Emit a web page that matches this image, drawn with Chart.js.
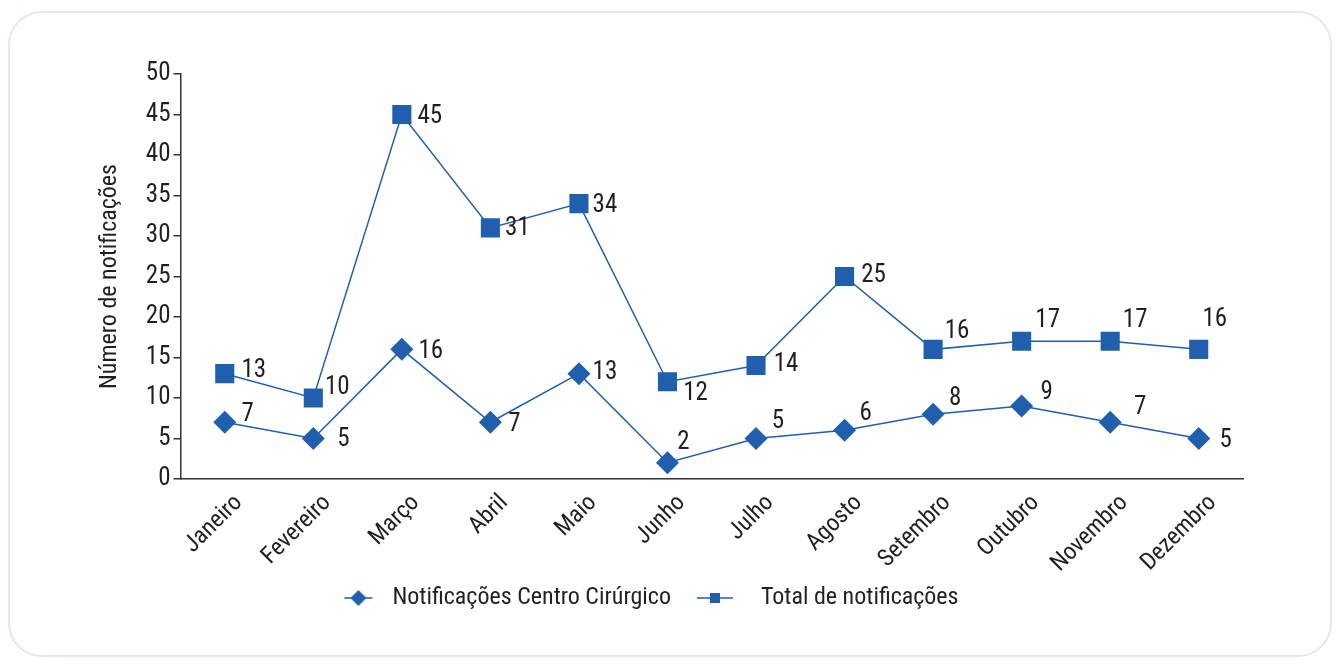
<!DOCTYPE html>
<html>
<head>
<meta charset="utf-8">
<script src="https://cdn.jsdelivr.net/npm/chart.js@4.4.0/dist/chart.umd.min.js"></script>
<style>
  html, body { margin: 0; padding: 0; background: #fff; }
  #card {
    position: absolute; left: 8px; top: 11px; width: 1324px; height: 646px;
    border: 2px solid #e2e6f5; border-radius: 34px; box-sizing: border-box;
  }
  #wrap { position: absolute; left: 0; top: 0; width: 1339px; height: 662px; }
</style>
</head>
<body>
<div id="card"></div>
<div id="wrap"><canvas id="notifChart" width="1339" height="662"></canvas></div>
<script>
const months = ["Janeiro", "Fevereiro", "Março", "Abril", "Maio", "Junho",
                "Julho", "Agosto", "Setembro", "Outubro", "Novembro", "Dezembro"];
const centroCirurgico = [7, 5, 16, 7, 13, 2, 5, 6, 8, 9, 7, 5];
const totalNotificacoes = [13, 10, 45, 31, 34, 12, 14, 25, 16, 17, 17, 16];
const seriesNames = ["Notificações Centro Cirúrgico", "Total de notificações"];
const yTitle = "Número de notificações";

// label placement relative to each point (dx, dy in px)
const centroLabelOffsets = [[23, -8], [30, 1], [29, 2], [24, 2], [26, -1], [16, -20],
                            [22, -17], [21, -17], [22, -15], [25, -13], [30, -15], [27, 2]];
const totalLabelOffsets = [[29, -3], [24, -10], [28, 2], [27, 1], [26, 2], [28, 12],
                           [30, -1], [29, -1], [24, -18], [26, -21], [25, -21], [16, -30]];

const blue = "#1f5fae";
const textColor = "#231f20";
const fontFamily = "'Liberation Sans Narrow', 'Roboto Condensed', 'DejaVu Sans Condensed', Roboto, sans-serif";

// legend markers: line with a diamond / square, drawn into small canvases
function legendMarker(style) {
    const c = document.createElement("canvas");
    c.width = 52; c.height = 20;
    const g = c.getContext("2d");
    g.strokeStyle = blue; g.lineWidth = 1.5;
    g.fillStyle = blue;
    g.beginPath();
    if (style === "diamond") {
        g.moveTo(16, 10); g.lineTo(44, 10); g.stroke();
        g.beginPath();
        g.moveTo(30, 2); g.lineTo(38, 10); g.lineTo(30, 18); g.lineTo(22, 10);
    } else {
        g.moveTo(0, 10); g.lineTo(36, 10); g.stroke();
        g.beginPath();
        g.rect(13, 5, 10, 10);
    }
    g.closePath(); g.fill();
    return c;
}

const valueLabels = {
    id: "valueLabels",
    afterLayout(chart) {
        // legend sits a bit left of centre and tucked under the month labels
        chart.legend.left -= 26;
        chart.legend.right -= 26;
        chart.legend.top -= 20;
        chart.legend.bottom -= 20;
    },
    afterDatasetsDraw(chart) {
        const ctx = chart.ctx;
        const offsets = [centroLabelOffsets, totalLabelOffsets];
        ctx.save();
        ctx.fillStyle = textColor;
        ctx.font = "25px " + fontFamily;
        ctx.textAlign = "center";
        ctx.textBaseline = "middle";
        chart.data.datasets.forEach((ds, i) => {
            chart.getDatasetMeta(i).data.forEach((pt, j) => {
                const [dx, dy] = offsets[i][j];
                ctx.fillText(String(ds.data[j]), pt.x + dx, pt.y + dy);
            });
        });
        ctx.restore();
    }
};

const ctx = document.getElementById("notifChart").getContext("2d");
const markers = [legendMarker("diamond"), legendMarker("square")];

new Chart(ctx, {
    type: "line",
    data: {
        labels: months,
        datasets: [{
            label: seriesNames[0],
            data: centroCirurgico,
            borderColor: blue,
            backgroundColor: blue,
            borderWidth: 1.5,
            pointStyle: "rectRot",
            pointRadius: 11.5,
            pointHoverRadius: 11.5,
            pointBorderWidth: 0,
            tension: 0
        }, {
            label: seriesNames[1],
            data: totalNotificacoes,
            borderColor: blue,
            backgroundColor: blue,
            borderWidth: 1.5,
            pointStyle: "rect",
            pointRadius: 13.5,
            pointHoverRadius: 13.5,
            pointBorderWidth: 0,
            tension: 0
        }]
    },
    options: {
        responsive: false,
        animation: false,
        devicePixelRatio: 1,
        layout: { padding: { top: 74, right: 96, left: 96, bottom: 22 } },
        plugins: {
            tooltip: { enabled: false },
            legend: {
                position: "bottom",
                labels: {
                    usePointStyle: true,
                    pointStyleWidth: 52,
                    padding: 26,
                    color: textColor,
                    font: { size: 24, family: fontFamily },
                    generateLabels(chart) {
                        return chart.data.datasets.map((ds, i) => ({
                            text: ds.label,
                            pointStyle: markers[i],
                            fillStyle: blue,
                            strokeStyle: blue,
                            lineWidth: 0,
                            fontColor: textColor,
                            datasetIndex: i
                        }));
                    }
                }
            }
        },
        scales: {
            x: {
                offset: true,
                grid: { display: false },
                border: { display: true, color: "#333", width: 1.5 },
                ticks: {
                    color: textColor,
                    maxRotation: 45,
                    minRotation: 45,
                    padding: 2,
                    labelOffset: 14,
                    font: { size: 24, family: fontFamily }
                }
            },
            y: {
                min: 0,
                max: 50,
                grid: { drawOnChartArea: false, drawTicks: true, tickLength: 7, color: "#333", lineWidth: 1.5 },
                border: { display: true, color: "#333", width: 1.5 },
                ticks: {
                    stepSize: 5,
                    color: textColor,
                    padding: 3,
                    font: { size: 25, family: fontFamily }
                },
                title: {
                    display: true,
                    text: yTitle,
                    color: textColor,
                    padding: { top: 0, bottom: 18 },
                    font: { size: 24, family: fontFamily }
                }
            }
        }
    },
    plugins: [valueLabels]
});
</script>
</body>
</html>
